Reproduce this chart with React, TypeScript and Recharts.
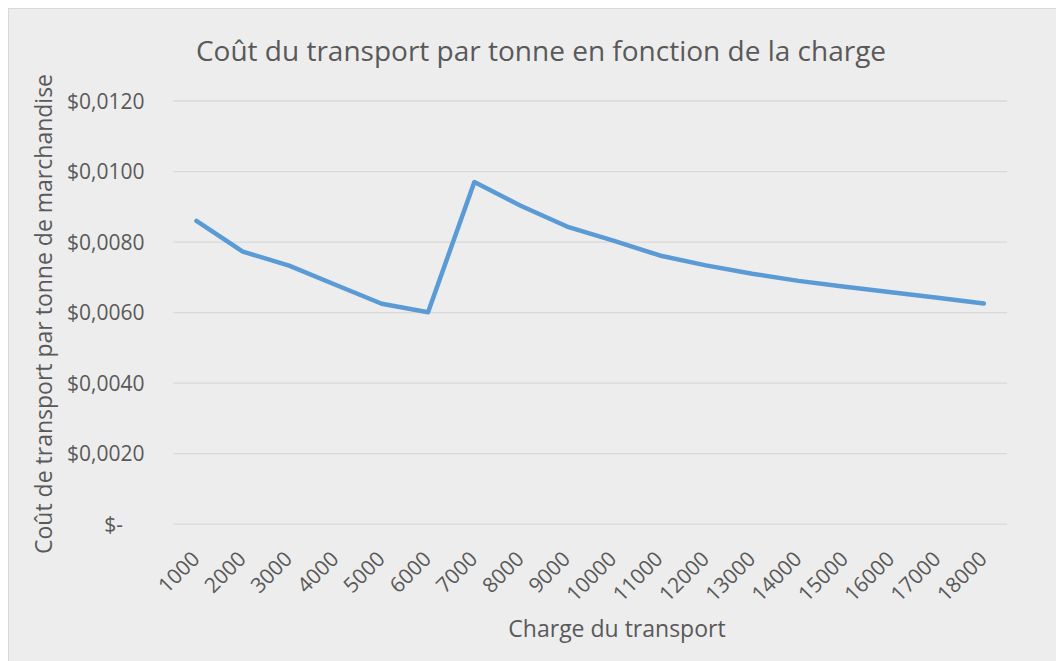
import React from 'react';
import { LineChart, Line, XAxis, YAxis, CartesianGrid, Customized } from 'recharts';

const categories = ['1000','2000','3000','4000','5000','6000','7000','8000','9000','10000','11000','12000','13000','14000','15000','16000','17000','18000'];
const costs = [0.00860,0.00773,0.00733,0.00679,0.00625,0.00601,0.00970,0.00903,0.00844,0.00804,0.00762,0.00734,0.00710,0.00690,0.00673,0.00658,0.00642,0.00626];
const yTicks = [0, 0.002, 0.004, 0.006, 0.008, 0.010, 0.012];

const title = 'Coût du transport par tonne en fonction de la charge';
const xTitle = 'Charge du transport';
const yTitle = 'Coût de transport par tonne de marchandise';

const data = categories.map((c, i) => ({ charge: c, cout: costs[i] }));

const FONT = '"Open Sans", "Noto Sans", sans-serif';
const TEXT = '#595959';

const W = 1060;
const H = 656;

const fmt = (v: number) => (v === 0 ? '$-' : '$' + v.toFixed(4).replace('.', ','));

const YTick = (props: any) => {
  const { y, payload } = props;
  const v = payload.value;
  const x = v === 0 ? 114 : 135.5;
  return (
    <text x={x} y={y} dy="0.36em" textAnchor="end" fontFamily={FONT} fontSize={21} fill={TEXT}>
      {fmt(v)}
    </text>
  );
};

const XTick = (props: any) => {
  const { x, y, payload } = props;
  const px = x + 4.5;
  const py = y + 36;
  return (
    <text x={px} y={py} textAnchor="end" transform={`rotate(-45, ${px}, ${py})`} fontFamily={FONT} fontSize={21} fill={TEXT}>
      {payload.value}
    </text>
  );
};

const Titles = () => (
  <g>
    <text x={532} y={52} textAnchor="middle" fontFamily={FONT} fontSize={28} fill={TEXT}>{title}</text>
    <text x={608} y={628} textAnchor="middle" fontFamily={FONT} fontSize={23} fill={TEXT}>{xTitle}</text>
    <text x={43} y={305} textAnchor="middle" transform="rotate(-90, 43, 305)" fontFamily={FONT} fontSize={23} fill={TEXT}>{yTitle}</text>
  </g>
);

export default function App() {
  return (
    <div style={{ width: W, height: H, border: '1px solid #D9D9D9', background: '#EDEDED' }}>
      <LineChart width={W} height={H} data={data} margin={{ top: 92, right: 62, bottom: 0, left: 0 }}>
        <CartesianGrid vertical={false} stroke="#D9D9D9" strokeWidth={1.3} />
        <XAxis dataKey="charge" axisLine={false} tickLine={false} tickSize={0} tickMargin={0} height={140.8} interval={0} padding={{ left: 23.15, right: 23.15 }} tick={<XTick />} />
        <YAxis domain={[0, 0.012]} ticks={yTicks} axisLine={false} tickLine={false} width={164.3} tick={<YTick />} />
        <Line type="linear" dataKey="cout" stroke="#5B9BD5" strokeWidth={4.5} strokeLinecap="round" strokeLinejoin="round" dot={false} activeDot={false} isAnimationActive={false} />
        <Customized component={Titles} />
      </LineChart>
    </div>
  );
}
